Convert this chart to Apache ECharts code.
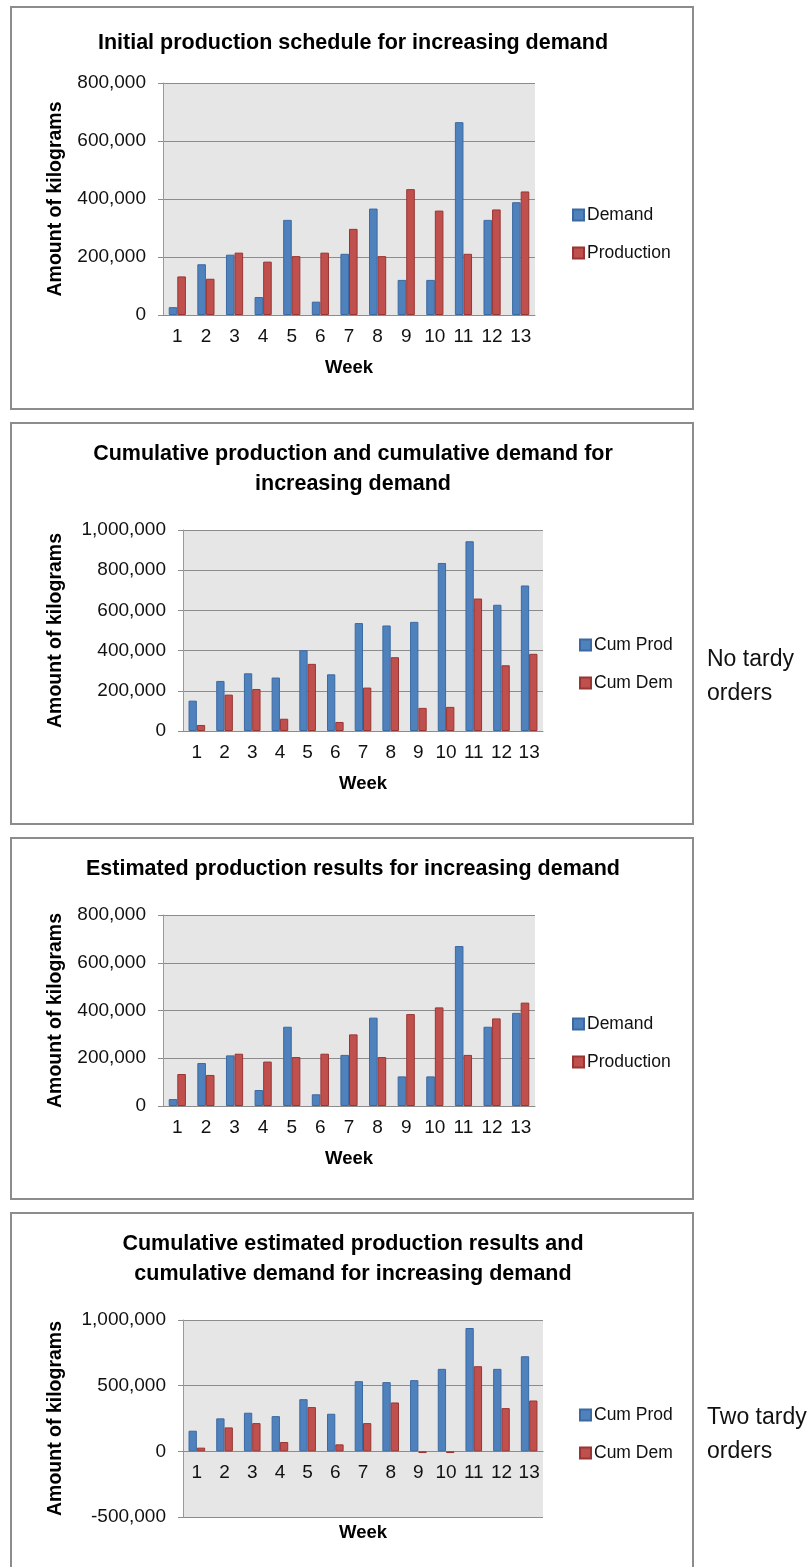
<!DOCTYPE html>
<html>
<head>
<meta charset="utf-8">
<title>Production schedule and demand</title>
<script src="https://cdn.jsdelivr.net/npm/echarts@6/dist/echarts.min.js"></script>
<style>
  html, body { margin: 0; padding: 0; background: #ffffff; }
  #chart { width: 812px; height: 1567px; }
</style>
</head>
<body>
<div id="chart"></div>
<script>
// Week categories shared by all four panels
const weeks = ['1', '2', '3', '4', '5', '6', '7', '8', '9', '10', '11', '12', '13'];

// Panel 1: initial production schedule
const demandInitial = [27000, 175000, 208000, 62000, 328000, 46000, 211000, 367000, 121000, 121000, 665000, 328000, 389000];
const productionInitial = [133000, 125000, 215000, 184000, 203000, 215000, 297000, 203000, 434000, 360000, 211000, 364000, 426000];

// Panel 2: cumulative production vs cumulative demand
const cumProdInitial = [151000, 249000, 287000, 266000, 402000, 282000, 537000, 525000, 543000, 836000, 944000, 628000, 724000];
const cumDemInitial = [30000, 181000, 209000, 61000, 334000, 45000, 216000, 367000, 115000, 120000, 659000, 327000, 384000];

// Panel 3: estimated production results
const demandEstimated = [29000, 180000, 212000, 67000, 332000, 49000, 214000, 370000, 124000, 124000, 670000, 332000, 390000];
const productionEstimated = [134000, 130000, 219000, 186000, 205000, 219000, 300000, 205000, 385000, 413000, 214000, 367000, 433000];

// Panel 4: cumulative estimated production vs cumulative demand
const cumProdEstimated = [157000, 251000, 294000, 268000, 397000, 286000, 534000, 527000, 542000, 628000, 939000, 628000, 724000];
const cumDemEstimated = [28000, 182000, 215000, 71000, 337000, 53000, 215000, 372000, -13000, -13000, 648000, 329000, 387000];

// Value-axis tick labels per panel
const yTicks1 = [0, 200000, 400000, 600000, 800000];
const yTicks2 = [0, 200000, 400000, 600000, 800000, 1000000];
const yTicks3 = [0, 200000, 400000, 600000, 800000];
const yTicks4 = [-500000, 0, 500000, 1000000];

const titles = [
  'Initial production schedule for increasing demand',
  'Cumulative production and cumulative demand for\nincreasing demand',
  'Estimated production results for increasing demand',
  'Cumulative estimated production results and\ncumulative demand for increasing demand'
];

const FONT = '"Liberation Sans", Arial, "DejaVu Sans", sans-serif';
const INK = '#111';
const BLUE = '#4f81bd', BLUE_EDGE = '#3b6aa2';
const RED = '#c0504d', RED_EDGE = '#983633';

// Panel geometry (frame box, plot area, legend anchor, title anchor).
// The last panel's value axis crosses zero mid-plot, so its "Week" caption
// is placed under the plot frame as a separate text element.
const panels = [
  { box: [11, 7, 682, 402], grid: [163, 83, 372, 232], legend: [572, 206], titleTop: 28, yName: 97, xNameGap: 43, ticks: yTicks1, axisName: true },
  { box: [11, 423, 682, 401], grid: [183, 530, 360, 201], legend: [579, 636], titleTop: 439, yName: 117, xNameGap: 43, ticks: yTicks2, axisName: true },
  { box: [11, 838, 682, 361], grid: [163, 915, 372, 191], legend: [572, 1015], titleTop: 854, yName: 97, xNameGap: 43, ticks: yTicks3, axisName: true },
  { box: [11, 1213, 682, 362], grid: [183, 1320, 360, 197], legend: [579, 1406], titleTop: 1229, yName: 117, xNameGap: 0, ticks: yTicks4, axisName: false }
];

// Lift the category axis up to the value axis's zero level
const zeroOffset = p => {
  const t = p.ticks, lo = t[0], hi = t[t.length - 1];
  return lo < 0 ? -p.grid[3] * (0 - lo) / (hi - lo) : 0;
};

const seriesPairs = [
  [['Demand', demandInitial], ['Production', productionInitial]],
  [['Cum Prod', cumProdInitial], ['Cum Dem', cumDemInitial]],
  [['Demand', demandEstimated], ['Production', productionEstimated]],
  [['Cum Prod', cumProdEstimated], ['Cum Dem', cumDemEstimated]]
];

const fmt = v => Number(v).toLocaleString('en-US');

const option = {
  backgroundColor: '#ffffff',
  animation: false,
  title: panels.map((p, i) => ({
    text: titles[i],
    left: 353,
    top: p.titleTop,
    padding: 0,
    textAlign: 'center',
    textStyle: { fontFamily: FONT, fontWeight: 'bold', fontSize: 21.5, lineHeight: 30, color: '#000' }
  })),
  legend: panels.map((p, i) => ({
    orient: 'vertical',
    left: p.legend[0],
    top: p.legend[1],
    padding: 0,
    itemWidth: 11,
    itemHeight: 11,
    itemGap: 20,
    icon: 'rect',
    selectedMode: false,
    data: seriesPairs[i].map(s => s[0]),
    textStyle: { fontFamily: FONT, fontSize: 17.5, color: INK, padding: [0, 0, 0, -2] }
  })),
  grid: panels.map(p => ({
    left: p.grid[0], top: p.grid[1], width: p.grid[2], height: p.grid[3],
    show: true, backgroundColor: '#e6e6e6', borderWidth: 0,
    containLabel: false, outerBoundsMode: 'none'
  })),
  xAxis: panels.map((p, i) => ({
    type: 'category',
    gridIndex: i,
    position: 'bottom',
    offset: zeroOffset(p),
    data: weeks,
    name: p.axisName ? 'Week' : '',
    nameLocation: 'middle',
    nameGap: p.xNameGap,
    nameTextStyle: { fontFamily: FONT, fontWeight: 'bold', fontSize: 18.5, color: '#000' },
    axisLine: { onZero: false, lineStyle: { color: '#8c8c8c', width: 1 } },
    axisTick: { show: false },
    axisLabel: { interval: 0, fontFamily: FONT, fontSize: 19, color: INK, margin: 12 }
  })),
  yAxis: panels.map((p, i) => {
    const t = p.ticks;
    return {
      type: 'value',
      gridIndex: i,
      min: t[0],
      max: t[t.length - 1],
      interval: t[1] - t[0],
      name: 'Amount of kilograms',
      nameLocation: 'middle',
      nameRotate: 90,
      nameGap: p.yName,
      nameTextStyle: { fontFamily: FONT, fontWeight: 'bold', fontSize: 19.5, color: '#000' },
      axisLine: { show: true, onZero: false, lineStyle: { color: '#9a9a9a', width: 1 } },
      axisTick: { show: true, length: 5, lineStyle: { color: '#8c8c8c' } },
      splitLine: { lineStyle: { color: '#8c8c8c', width: 1 } },
      axisLabel: { fontFamily: FONT, fontSize: 19, color: INK, margin: 17, formatter: fmt }
    };
  }),
  series: seriesPairs.flatMap((pair, i) => pair.map((s, j) => ({
    name: s[0],
    type: 'bar',
    xAxisIndex: i,
    yAxisIndex: i,
    data: s[1],
    barGap: '0%',
    barCategoryGap: '40%',
    itemStyle: {
      color: j === 0 ? BLUE : RED,
      borderColor: j === 0 ? BLUE_EDGE : RED_EDGE,
      borderWidth: 1
    }
  }))),
  graphic: [
    ...panels.map(p => ({
      type: 'rect',
      silent: true,
      z: -10,
      shape: { x: p.box[0], y: p.box[1], width: p.box[2], height: p.box[3] },
      style: { fill: 'none', stroke: '#8c8c8c', lineWidth: 2 }
    })),
    {
      type: 'text', x: 363, y: 1533,
      style: {
        text: 'Week', align: 'center', verticalAlign: 'middle',
        font: 'bold 18.5px ' + FONT, fill: '#000'
      }
    },
    {
      type: 'text', left: 707, top: 643,
      style: { text: 'No tardy\norders', font: '23px ' + FONT, fill: INK, lineHeight: 34 }
    },
    {
      type: 'text', left: 707, top: 1401,
      style: { text: 'Two tardy\norders', font: '23px ' + FONT, fill: INK, lineHeight: 34 }
    }
  ]
};

const chart = echarts.init(document.getElementById('chart'), null, { renderer: 'canvas' });
chart.setOption(option);
</script>
</body>
</html>
